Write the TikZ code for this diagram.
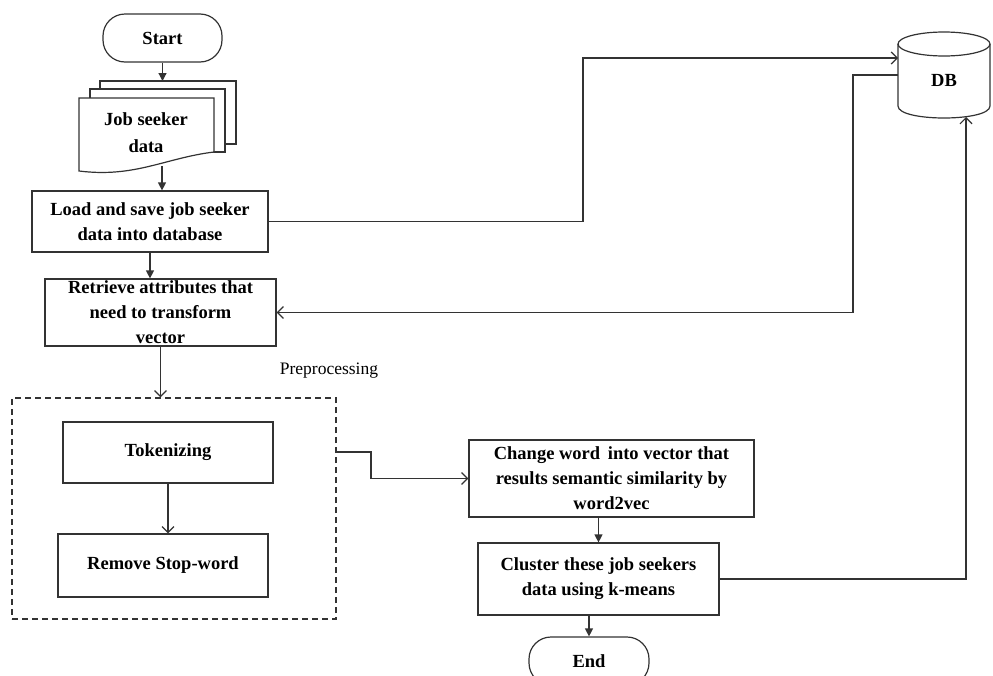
\documentclass[tikz,border=0pt]{standalone}
\usepackage{fontspec}
\setmainfont{Liberation Serif}
\usetikzlibrary{arrows.meta}
\begin{document}
\begin{tikzpicture}[x=1pt,y=-1pt,
  line/.style={draw=black!80, line width=1.2pt},
  box/.style={line, fill=white, inner sep=0pt, align=center, font=\fontsize{18.5}{25}\selectfont\bfseries},
  term/.style={box, rounded corners=22pt},
  fa/.style={line, -{Triangle[length=8pt,width=8pt]}},
  oa/.style={line, -{Straight Barb[length=6pt,width=12pt]}},
]
\useasboundingbox (0,0) rectangle (993,675);

% Start / End
\node[term, minimum width=119pt, minimum height=48pt] (start) at (162.5,38) {Start};
\node[term, minimum width=120pt, minimum height=48pt] (end) at (589,661) {End};

% multi-document
\draw[line, fill=white] (100,81) rectangle (236,144);
\draw[line, fill=white] (90,89) rectangle (225,152);
\draw[line, fill=white] (79,98) -- (214,98) -- (214,152) .. controls (165,158) and (135,178) .. (79,171) -- cycle;
\node[align=center, font=\fontsize{18.5}{27}\selectfont\bfseries] (doc) at (146,133) {Job seeker\\data};
\coordinate (doctop) at (162,81);
\coordinate (docbot) at (162,166);

% main boxes
\node[box, minimum width=236pt, minimum height=61pt] (load) at (150,221.5) {Load and save job seeker\\data into database};
\node[box, minimum width=231pt, minimum height=67pt] (retrieve) at (160.5,312.5) {Retrieve attributes that\\need to transform\\vector};

\node[font=\fontsize{17.5}{20}\selectfont] (pplabel) at (329,371) {Preprocessing};
\node[draw=black!80, line width=1.2pt, dash pattern=on 6pt off 4pt, minimum width=324pt, minimum height=221pt, inner sep=0pt] (prep) at (174,508.5) {};
\node[box, minimum width=210pt, minimum height=61pt] (tok) at (168,452.5) {Tokenizing};
\node[box, minimum width=210pt, minimum height=63pt] (remove) at (163,565.5) {Remove Stop-word};
\coordinate (prepout) at (336,452);

\node[box, minimum width=285pt, minimum height=77pt] (change) at (611.5,478.5) {Change word\, into vector that\\results semantic similarity by\\word2vec};
\node[box, minimum width=241pt, minimum height=72pt] (cluster) at (598.5,579) {Cluster these job seekers\\data using k-means};

% DB cylinder
\draw[line, fill=white] (898,44) -- (898,106) .. controls (898,122) and (990,122) .. (990,106) -- (990,44);
\draw[line] (944,44) ellipse [x radius=46, y radius=12];
\node[font=\fontsize{18.5}{22}\selectfont\bfseries] (db) at (944,80) {DB};
\coordinate (dbin) at (898,58);
\coordinate (dbout) at (898,75);
\coordinate (dbbot) at (966,117);

% connectors
\draw[fa] (start.south) -- (start.south |- doctop);
\draw[fa] (docbot) -- (docbot |- load.north);
\draw[fa] (load.south) -- (load.south |- retrieve.north);
\draw[oa] (retrieve.south) -- (retrieve.south |- prep.north);
\draw[oa] (tok.south) -- (tok.south |- remove.north);
\draw[oa] (prepout) -- (371,452) |- (change.west);
\draw[fa] (cluster.north |- change.south) -- (cluster.north);
\draw[fa] (end.north |- cluster.south) -- (end.north);
\draw[oa] (load.east) -- (583,221.5) -- (583,58) -- (dbin);
\draw[oa] (dbout) -- (853,75) |- (retrieve.east);
\draw[oa] (cluster.east) -| (dbbot);
\end{tikzpicture}
\end{document}
